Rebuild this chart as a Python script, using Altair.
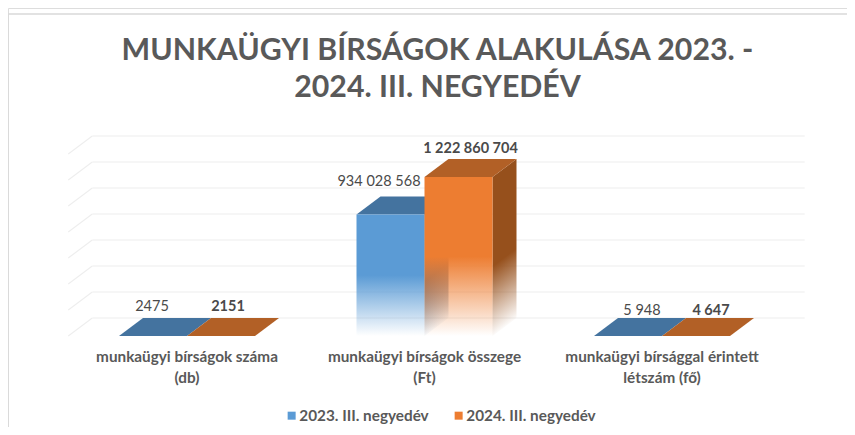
import altair as alt
import pandas as pd

# ---- data ----
TITLE_LINES = ["MUNKAÜGYI BÍRSÁGOK ALAKULÁSA 2023. -", "2024. III. NEGYEDÉV"]
CATEGORIES = ["munkaügyi bírságok száma\n(db)",
              "munkaügyi bírságok összege\n(Ft)",
              "munkaügyi bírsággal érintett\nlétszám (fő)"]
SERIES = ["2023. III. negyedév", "2024. III. negyedév"]
VALUES_2023 = [2475, 934028568, 5948]
VALUES_2024 = [2151, 1222860704, 4647]
LABELS_2023 = ["2475", "934 028 568", "5 948"]
LABELS_2024 = ["2151", "1 222 860 704", "4 647"]
GRID_VALUES = [0, 2e8, 4e8, 6e8, 8e8, 1e9, 1.2e9, 1.4e9]

# ---- layout ----
W, H = 839, 419
PX_PER_CAT = 237.5
PX_PER_VAL = 26 / 2e8
X0_PX, Y0_PX = 179.0, 328.0
X_DOMAIN = [-X0_PX / PX_PER_CAT, (W - X0_PX) / PX_PER_CAT]
Y_DOMAIN = [(Y0_PX - H) / PX_PER_VAL, Y0_PX / PX_PER_VAL]
BAR_W = 68 / PX_PER_CAT
DX = 24 / PX_PER_CAT
DV = 18 / PX_PER_VAL
FONT = "Lato"
TXT = "#595959"
GRID = "#eeeeee"
# label nudges from each bar's front-top-centre, px: per series, per category
NUDGE_2023 = [(-1, -29), (-11.5, -33), (14, -25)]
NUDGE_2024 = [(7, -29), (12, -28), (15, -25)]

sx = alt.Scale(domain=X_DOMAIN, range=[0, W], nice=False, zero=False)
sy = alt.Scale(domain=Y_DOMAIN, range=[H, 0], nice=False, zero=False)
X = lambda f="x": alt.X(f"{f}:Q", scale=sx, axis=None, title=None)
Y = lambda f="y": alt.Y(f"{f}:Q", scale=sy, axis=None, title=None)


def fade(color_rgb, start=0.5, x2=0.0, y2=1.0):
    r, g, b = color_rgb
    return alt.Gradient(
        gradient="linear", x1=0, y1=0, x2=x2, y2=y2,
        stops=[
            alt.GradientStop(offset=0, color=f"rgba({r},{g},{b},1)"),
            alt.GradientStop(offset=start, color=f"rgba({r},{g},{b},1)"),
            alt.GradientStop(offset=1, color=f"rgba({r},{g},{b},0)"),
        ],
    )


layers = []

# back wall gridlines and their slanted floor-side returns
wall = pd.DataFrame({"x": [-0.5 + DX] * len(GRID_VALUES), "x2": [2.5 + DX] * len(GRID_VALUES),
                     "y": [v + DV for v in GRID_VALUES]})
layers.append(alt.Chart(wall).mark_rule(color=GRID, strokeWidth=1.2).encode(x=X(), x2="x2:Q", y=Y()))
diag_rows = []
for i, v in enumerate(GRID_VALUES):
    diag_rows += [{"g": i, "x": -0.5, "y": v}, {"g": i, "x": -0.5 + DX, "y": v + DV}]
layers.append(alt.Chart(pd.DataFrame(diag_rows)).mark_line(color=GRID, strokeWidth=1.2)
              .encode(x=X(), y=Y(), detail="g:N", order="x:Q"))

STYLE = [
    {"vals": VALUES_2023, "off": -BAR_W, "front": (91, 155, 213), "top": "#44739F", "side": (63, 110, 154)},
    {"vals": VALUES_2024, "off": 0.0, "front": (237, 125, 49), "top": "#B26026", "side": (150, 80, 28)},
]
for cat in range(3):
    for st in STYLE:
        v = st["vals"][cat]
        a, b = cat + st["off"], cat + st["off"] + BAR_W
        side = pd.DataFrame({"x": [b, b + DX], "y": [v, v + DV], "y2": [0, DV]})
        top = pd.DataFrame({"y": [v, v + DV], "x": [a, a + DX], "x2": [b, b + DX]})
        front = pd.DataFrame({"x": [a], "x2": [b], "y": [v], "y2": [0]})
        tilt = 18 / max(v * PX_PER_VAL + 18, 1)
        layers.append(alt.Chart(side).mark_area(orient="vertical", fill=fade(st["side"], 0.6, tilt, 1.0))
                      .encode(x=X(), y=Y(), y2=alt.Y2("y2")))
        layers.append(alt.Chart(top).mark_area(orient="horizontal", fill=st["top"])
                      .encode(y=Y(), x=X(), x2=alt.X2("x2")))
        if v * PX_PER_VAL > 1:
            layers.append(alt.Chart(front).mark_rect(color=fade(st["front"]))
                          .encode(x=X(), x2="x2:Q", y=Y(), y2="y2:Q"))

# data labels
for vals, labels, nudges, off, weight in [
    (VALUES_2023, LABELS_2023, NUDGE_2023, -BAR_W / 2, "normal"),
    (VALUES_2024, LABELS_2024, NUDGE_2024, BAR_W / 2, "bold"),
]:
    for cat in range(3):
        d = pd.DataFrame({"x": [cat + off], "y": [vals[cat]], "t": [labels[cat]]})
        layers.append(alt.Chart(d).mark_text(font=FONT, fontSize=14.5, fontWeight=weight, color="#4a4a4a",
                                             dx=nudges[cat][0], dy=nudges[cat][1], baseline="middle")
                      .encode(x=X(), y=Y(), text="t:N"))

# category labels
cat_df = pd.DataFrame({"x": [0, 1, 2], "c": CATEGORIES})
layers.append(alt.Chart(cat_df).mark_text(font=FONT, fontSize=15.3, fontWeight="bold", color=TXT,
                                          lineBreak="\n", lineHeight=21, baseline="top", dy=14)
              .encode(x=X(), y=alt.YValue(Y0_PX), text="c:N"))

# legend carrier
leg_df = pd.DataFrame({"x": [0, 0], "y": [0, 0], "s": SERIES})
layers.append(alt.Chart(leg_df).mark_square(opacity=0, size=1).encode(
    x=X(), y=Y(),
    color=alt.Color("s:N", scale=alt.Scale(domain=SERIES, range=["#5B9BD5", "#ED7D31"]),
                    legend=alt.Legend(title=None, orient="none", legendX=276, legendY=400, direction="horizontal",
                                      columns=2, symbolType="square", symbolSize=64, symbolOpacity=1,
                                      labelFont=FONT, labelFontSize=15.3, labelFontWeight="bold", labelColor=TXT,
                                      labelOffset=0, columnPadding=22, symbolStrokeWidth=0)),
))

# chart frame
frame = pd.DataFrame({"a": [0]})
layers.append(alt.Chart(frame).mark_rule(color="#d9d9d9", strokeWidth=1.5)
              .encode(x=alt.value(0), y=alt.value(6), y2=alt.value(H)))
layers.append(alt.Chart(frame).mark_rule(color="#d9d9d9", strokeWidth=1.5)
              .encode(x=alt.value(0), x2=alt.value(W), y=alt.value(6)))

chart = alt.layer(*layers).properties(
    width=W, height=H, padding=0,
    autosize=alt.AutoSizeParams(type="none"),
    title=alt.TitleParams(text=TITLE_LINES, font=FONT, fontSize=30.3, fontWeight="bold", color=TXT,
                          anchor="middle", offset=-125, lineHeight=37, baseline="bottom", dx=10),
).configure_view(stroke=None).configure(background="white")

chart.save("out.html", embed_options={"renderer": "svg", "actions": False})
